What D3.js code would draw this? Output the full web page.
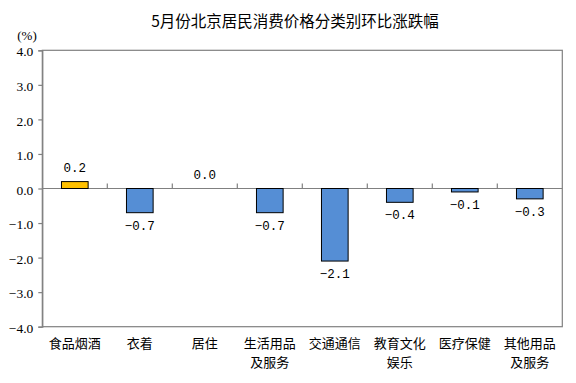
<!DOCTYPE html>
<html>
<head>
<meta charset="utf-8">
<script src="https://cdn.jsdelivr.net/npm/d3@7"></script>
<style>
  body { margin: 0; background: #fff; }
</style>
</head>
<body>
<div id="container"></div>
<script>
const categories = [["食品烟酒"], ["衣着"], ["居住"], ["生活用品", "及服务"], ["交通通信"], ["教育文化", "娱乐"], ["医疗保健"], ["其他用品", "及服务"]];
const values = [0.2, -0.7, 0.0, -0.7, -2.1, -0.4, -0.1, -0.3];
const yTicks = [-4, -3, -2, -1, 0, 1, 2, 3, 4];
const title = "5月份北京居民消费价格分类别环比涨跌幅";

const WIDTH = 576, HEIGHT = 383;
const mLeft = 42.3, mRight = 562.3, mTop = 50.3, mBottom = 326.7;

let svg = d3.select("#container")
  .append("svg")
  .attr("width", WIDTH)
  .attr("height", HEIGHT);

let x = d3.scaleBand()
  .domain(d3.range(categories.length))
  .range([mLeft, mRight])
  .paddingInner(0.59)
  .paddingOuter(0.295);

let xb = d3.scaleBand()
  .domain(d3.range(categories.length))
  .range([mLeft, mRight]);

let y = d3.scaleLinear().domain([-4, 4]).range([mBottom, mTop]);

// title
svg.append("text")
  .attr("x", 295)
  .attr("y", 27)
  .attr("text-anchor", "middle")
  .style("font-family", "'Noto Sans CJK SC', sans-serif")
  .style("font-size", "15.5px")
  .text(title);

svg.append("text")
  .attr("x", 27)
  .attr("y", 40)
  .attr("text-anchor", "middle")
  .style("font-family", "'Liberation Serif', serif")
  .style("font-size", "13px")
  .text("(%)");

// plot box
svg.append("rect")
  .attr("x", mLeft)
  .attr("y", mTop)
  .attr("width", mRight - mLeft)
  .attr("height", mBottom - mTop)
  .attr("fill", "none")
  .attr("stroke", "#808080")
  .attr("stroke-width", 1.2);

// y axis
let yAxis = d3.axisLeft(y)
  .tickValues(yTicks)
  .tickSize(4)
  .tickPadding(5)
  .tickFormat(d3.format(".1f"));

let gy = svg.append("g")
  .attr("transform", `translate(${mLeft},0)`)
  .call(yAxis)
  .attr("font-family", "'Liberation Serif', serif")
  .attr("font-size", 13.5);
gy.select(".domain").attr("stroke", "#808080").attr("stroke-width", 1.2);
gy.selectAll(".tick line").attr("stroke", "#808080").attr("stroke-width", 1.2);
gy.selectAll(".tick text")
  .attr("fill", "#000")
  .attr("dy", "0.42em");

// zero line with inner category ticks
svg.append("line")
  .attr("x1", mLeft).attr("x2", mRight)
  .attr("y1", y(0)).attr("y2", y(0))
  .attr("stroke", "#808080")
  .attr("stroke-width", 1.2);

svg.selectAll(".cat-tick")
  .data(d3.range(1, categories.length))
  .enter()
  .append("line")
  .attr("class", "cat-tick")
  .attr("x1", d => xb(d)).attr("x2", d => xb(d))
  .attr("y1", y(0)).attr("y2", y(0) - 5)
  .attr("stroke", "#808080")
  .attr("stroke-width", 1.2);

// bars (zero value draws nothing)
let barData = values.map((v, i) => ({v, i})).filter(d => d.v !== 0);
svg.selectAll(".bar")
  .data(barData)
  .enter()
  .append("rect")
  .attr("class", "bar")
  .attr("x", d => x(d.i))
  .attr("width", x.bandwidth())
  .attr("y", d => y(Math.max(0, d.v)))
  .attr("height", d => Math.abs(y(d.v) - y(0)))
  .attr("fill", d => d.v > 0 ? "#FFC000" : "#558ED5")
  .attr("stroke", "#000")
  .attr("stroke-width", 1);

// value labels
svg.selectAll(".val")
  .data(values)
  .enter()
  .append("text")
  .attr("class", "val")
  .attr("x", (d, i) => x(i) + x.bandwidth() / 2)
  .attr("y", d => d >= 0 ? y(d) - 9.5 : y(d) + 17)
  .attr("text-anchor", "middle")
  .style("font-family", "'Liberation Mono', monospace")
  .style("font-size", "12.5px")
  .text(d => d3.format(".1f")(d));

// category labels, one text per line
let catLines = [];
categories.forEach((lines, i) => lines.forEach((t, k) => catLines.push({t, i, k})));

svg.selectAll(".cat")
  .data(catLines)
  .enter()
  .append("text")
  .attr("class", "cat")
  .attr("x", d => xb(d.i) + xb.bandwidth() / 2)
  .attr("y", d => 348 + d.k * 19)
  .attr("text-anchor", "middle")
  .style("font-family", "'Noto Sans CJK SC', sans-serif")
  .style("font-size", "13px")
  .text(d => d.t);
</script>
</body>
</html>
